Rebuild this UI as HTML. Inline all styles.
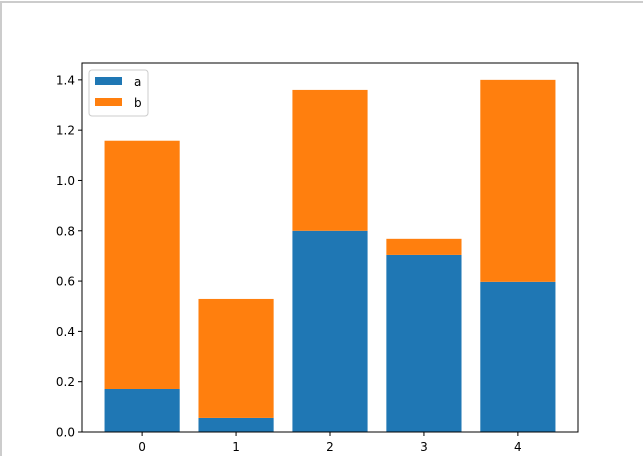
<!DOCTYPE html>
<html><head><meta charset="utf-8"><style>
body{margin:0;background:#fff;}
svg{display:block;font-family:"DejaVu Sans","Liberation Sans",sans-serif;}
</style></head><body>
<svg id="chart" width="643" height="456" viewBox="0 0 643 456">
<rect x="0" y="0" width="643" height="456" fill="#fff"/>
<line x1="0" y1="2" x2="643" y2="2" stroke="#ccc" stroke-width="2"/>
<line x1="1" y1="2" x2="1" y2="456" stroke="#ccc" stroke-width="2"/>
<g id="bars"></g>
<g id="axes"></g>
</svg>
<script>
const categories=[0,1,2,3,4];
const seriesA=[0.171,0.056,0.80,0.704,0.597];
const seriesB=[0.987,0.473,0.56,0.064,0.803];
const yTicks=[0.0,0.2,0.4,0.6,0.8,1.0,1.2,1.4];
const ns="http://www.w3.org/2000/svg";
const L=82,R=578,T=63,B=432;
const xMin=-0.64,xMax=4.64,yMin=0,yMax=1.467;
function xs(v){return L+(v-xMin)/(xMax-xMin)*(R-L);}
function ys(v){return B-(v-yMin)/(yMax-yMin)*(B-T);}
function mk(tag,attrs,parent){const e=document.createElementNS(ns,tag);for(const k in attrs)e.setAttribute(k,attrs[k]);parent.appendChild(e);return e;}
const bars=document.getElementById('bars'),axes=document.getElementById('axes');
categories.forEach((c,i)=>{
 const x0=xs(c-0.4),w=xs(c+0.4)-x0;
 const a=mk('rect',{x:x0,y:ys(seriesA[i]),width:w,height:ys(0)-ys(seriesA[i]),fill:'#1f77b4'},bars);
 
 
 const top=seriesA[i]+seriesB[i];
 const b=mk('rect',{x:x0,y:ys(top),width:w,height:ys(seriesA[i])-ys(top),fill:'#ff7f0e'},bars);
 
 
 const t=mk('line',{x1:xs(c),x2:xs(c),y1:B,y2:B+4,stroke:'#000','stroke-width':1},axes);
 
 
 const l=mk('text',{x:xs(c),y:B+19,'text-anchor':'middle','font-size':12,fill:'#000'},axes);
 l.textContent=c;
 
 
});
yTicks.forEach(v=>{
 const t=mk('line',{x1:L-4,x2:L,y1:ys(v),y2:ys(v),stroke:'#000','stroke-width':1},axes);
 
 
 const l=mk('text',{x:L-7,y:ys(v)+4.5,'text-anchor':'end','font-size':12,fill:'#000'},axes);
 l.textContent=v.toFixed(1);
 
 
});
const frame=mk('rect',{x:L,y:T,width:R-L,height:B-T,fill:'none',stroke:'#000','stroke-width':1},axes);


const lg=mk('g',{},axes);


mk('rect',{x:89,y:70,width:59,height:46,rx:3,fill:'#fff',stroke:'#ccc'},lg);
const names=['a','b'],cols=['#1f77b4','#ff7f0e'];
names.forEach((n,i)=>{
 const g=mk('g',{},lg);
 
 
 mk('rect',{x:95,y:77+i*21,width:27,height:8,fill:cols[i]},g);
 const t=mk('text',{x:134,y:86+i*21,'font-size':12,fill:'#000'},g);
 t.textContent=n;
});
</script>
</body></html>
